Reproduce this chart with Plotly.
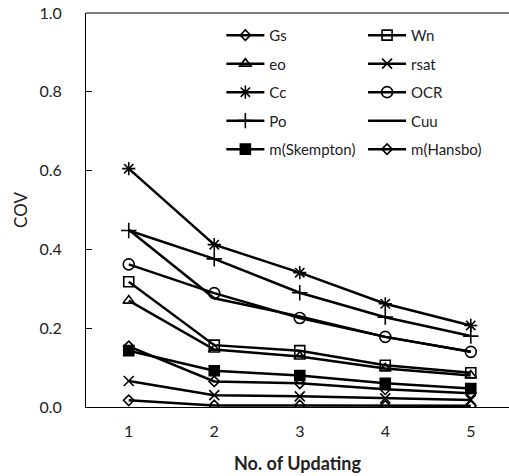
import plotly.graph_objects as go

updates = [1, 2, 3, 4, 5]
series_names = ["Gs", "Wn", "eo", "rsat", "Cc", "OCR", "Po", "Cuu", "m(Skempton)", "m(Hansbo)"]
gs = [0.017, 0.004, 0.004, 0.003, 0.003]
wn = [0.318, 0.157, 0.143, 0.106, 0.087]
eo = [0.270, 0.146, 0.128, 0.098, 0.080]
rsat = [0.066, 0.030, 0.027, 0.022, 0.018]
cc = [0.605, 0.412, 0.341, 0.262, 0.207]
ocr = [0.362, 0.289, 0.226, 0.178, 0.140]
po = [0.448, 0.376, 0.290, 0.228, 0.180]
cuu = [0.450, 0.276, 0.230, 0.178, 0.140]
m_skempton = [0.143, 0.092, 0.080, 0.060, 0.047]
m_hansbo = [0.154, 0.065, 0.060, 0.045, 0.035]

values = [gs, wn, eo, rsat, cc, ocr, po, cuu, m_skempton, m_hansbo]
symbols = ["diamond-open", "square-open", "triangle-up-open", "x-thin-open",
           "asterisk-open", "circle-open", "cross-thin-open", None,
           "square", "diamond-open"]
sizes = [8, 10, 10, 10, 11, 11, 11, 0, 10, 8]

fig = go.Figure()
for i, (name, vals, sym, sz) in enumerate(zip(series_names, values, symbols, sizes)):
    leg = "legend" if i % 2 == 0 else "legend2"
    common = dict(x=updates, y=vals, name=name, legend=leg, legendgroup=name,
                  line=dict(color="black", width=2.5))
    if sym is None:
        fig.add_trace(go.Scatter(mode="lines", **common))
    else:
        fig.add_trace(go.Scatter(mode="lines+markers",
                                 marker=dict(symbol=sym, size=sz, color="black",
                                             line=dict(color="black", width=1.6)),
                                 **common))

legend_style = dict(orientation="v", yanchor="top", xanchor="left",
                    itemwidth=38, font=dict(size=15, color="#222"),
                    tracegroupgap=6, bgcolor="rgba(0,0,0,0)")

fig.update_layout(
    width=509, height=476,
    margin=dict(l=86, r=0, t=13, b=69),
    paper_bgcolor="white", plot_bgcolor="white",
    font=dict(family="Lato", size=16, color="#222"),
    showlegend=True,
    legend=dict(x=0.32, y=0.985, **legend_style),
    legend2=dict(x=0.655, y=0.985, **legend_style),
    xaxis=dict(range=[0.5, 5.447], tickvals=updates, ticks="",
               showline=True, linecolor="black", linewidth=1,
               showgrid=False, zeroline=False, ticklabelstandoff=10,
               title=dict(text="<b>No. of Updating</b>", font=dict(size=18), standoff=18)),
    yaxis=dict(range=[0, 1], tickvals=[0, 0.2, 0.4, 0.6, 0.8, 1.0], tickformat=".1f",
               ticks="inside", ticklen=6, tickcolor="black",
               showline=True, linecolor="black", linewidth=1,
               showgrid=False, zeroline=False, ticklabelstandoff=20,
               title=dict(text="COV", font=dict(size=17), standoff=7)),
)
fig.add_shape(type="line", xref="paper", yref="paper", x0=0, x1=1, y0=1, y1=1,
              line=dict(color="black", width=1))

fig.write_html("out.html")
